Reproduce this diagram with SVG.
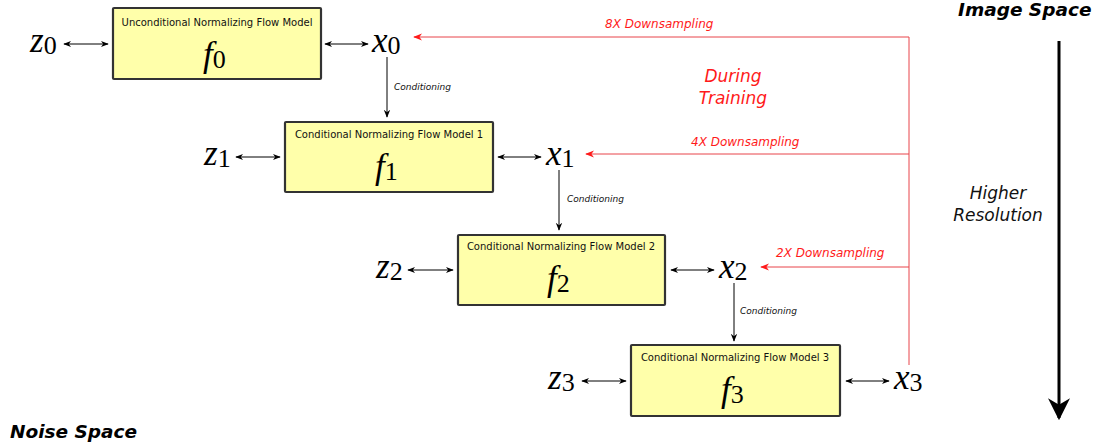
<svg xmlns="http://www.w3.org/2000/svg" width="1096" height="448" viewBox="0 0 1096 448">
<style>
.box{fill:#ffffaa;stroke:#333;stroke-width:2.2}
.ttl{font-family:"DejaVu Sans",sans-serif;font-size:10px;fill:#111;text-anchor:middle}
.math{font-family:"Liberation Serif","DejaVu Serif",serif;font-style:italic;font-size:35px;fill:#000}
.sub{font-family:"Liberation Serif","DejaVu Serif",serif;font-style:normal;font-size:26px}
.cond{font-family:"DejaVu Sans",sans-serif;font-style:italic;font-size:9px;fill:#111}
.red{font-family:"DejaVu Sans",sans-serif;font-style:italic;font-size:12px;fill:#ff1a1a}
.red16{font-family:"DejaVu Sans",sans-serif;font-style:italic;font-size:17px;fill:#ff1a1a;text-anchor:middle}
.hr{font-family:"DejaVu Sans",sans-serif;font-style:italic;font-size:17px;fill:#111;text-anchor:middle}
.bl{stroke:#000;stroke-width:1;fill:none}
.rl{stroke:#e8454a;stroke-width:1;fill:none}
.big{font-family:"DejaVu Sans",sans-serif;font-weight:bold;font-style:italic;font-size:18.5px;fill:#000}
</style>
<defs>
<marker id="ah" viewBox="0 0 10 10" refX="9" refY="5" markerWidth="8" markerHeight="8" orient="auto-start-reverse" markerUnits="userSpaceOnUse"><path d="M0,1 L10,5 L0,9 L3,5 Z" fill="#000"/></marker>
<marker id="rh" viewBox="0 0 10 10" refX="9" refY="5" markerWidth="9" markerHeight="9" orient="auto" markerUnits="userSpaceOnUse"><path d="M0,1 L10,5 L0,9 L3,5 Z" fill="#ff1a1a"/></marker>
<marker id="bh" viewBox="0 0 10 10" refX="9" refY="5" markerWidth="22" markerHeight="22" orient="auto" markerUnits="userSpaceOnUse"><path d="M0,0 L10,5 L0,10 L3,5 Z" fill="#000"/></marker>
</defs>

<g id="node-f0">
<rect class="box" x="113" y="8" width="208" height="71" rx="1"/>
<text class="ttl" x="217" y="26">Unconditional Normalizing Flow Model</text>
<text class="math" x="203" y="66">f<tspan class="sub" dy="2">0</tspan></text>
</g>
<g id="node-f1">
<rect class="box" x="285" y="122" width="208" height="70" rx="1"/>
<text class="ttl" x="389" y="138">Conditional Normalizing Flow Model 1</text>
<text class="math" x="375" y="178">f<tspan class="sub" dy="2">1</tspan></text>
</g>
<g id="node-f2">
<rect class="box" x="458" y="235" width="207" height="70" rx="1"/>
<text class="ttl" x="561" y="250">Conditional Normalizing Flow Model 2</text>
<text class="math" x="547" y="290">f<tspan class="sub" dy="2">2</tspan></text>
</g>
<g id="node-f3">
<rect class="box" x="631" y="345" width="209" height="71" rx="1"/>
<text class="ttl" x="735" y="361">Conditional Normalizing Flow Model 3</text>
<text class="math" x="721" y="401">f<tspan class="sub" dy="2">3</tspan></text>
</g>

<g id="node-z0"><text class="math" x="30" y="52">z<tspan class="sub" dy="2">0</tspan></text></g>
<g id="node-z1"><text class="math" x="204" y="165">z<tspan class="sub" dy="2">1</tspan></text></g>
<g id="node-z2"><text class="math" x="376" y="278">z<tspan class="sub" dy="2">2</tspan></text></g>
<g id="node-z3"><text class="math" x="548" y="389">z<tspan class="sub" dy="2">3</tspan></text></g>
<g id="node-x0"><text class="math" x="372" y="52">x<tspan class="sub" dy="2">0</tspan></text></g>
<g id="node-x1"><text class="math" x="546" y="165">x<tspan class="sub" dy="2">1</tspan></text></g>
<g id="node-x2"><text class="math" x="719" y="278">x<tspan class="sub" dy="2">2</tspan></text></g>
<g id="node-x3"><text class="math" x="894" y="389">x<tspan class="sub" dy="2">3</tspan></text></g>

<g id="connectors">
<line class="bl" x1="64" y1="44" x2="108" y2="44" marker-start="url(#ah)" marker-end="url(#ah)"/>
<line class="bl" x1="325" y1="44" x2="368" y2="44" marker-start="url(#ah)" marker-end="url(#ah)"/>
<line class="bl" x1="236" y1="157" x2="280" y2="157" marker-start="url(#ah)" marker-end="url(#ah)"/>
<line class="bl" x1="498" y1="157" x2="541" y2="157" marker-start="url(#ah)" marker-end="url(#ah)"/>
<line class="bl" x1="408" y1="270" x2="453" y2="270" marker-start="url(#ah)" marker-end="url(#ah)"/>
<line class="bl" x1="671" y1="270" x2="714" y2="270" marker-start="url(#ah)" marker-end="url(#ah)"/>
<line class="bl" x1="582" y1="381" x2="626" y2="381" marker-start="url(#ah)" marker-end="url(#ah)"/>
<line class="bl" x1="846" y1="381" x2="889" y2="381" marker-start="url(#ah)" marker-end="url(#ah)"/>

<line class="bl" x1="387" y1="57" x2="387" y2="117" stroke="#444" marker-end="url(#ah)"/>
<text class="cond" x="394" y="90">Conditioning</text>
<line class="bl" x1="559" y1="170" x2="559" y2="230" stroke="#444" marker-end="url(#ah)"/>
<text class="cond" x="567" y="202">Conditioning</text>
<line class="bl" x1="734" y1="283" x2="734" y2="341" stroke="#444" marker-end="url(#ah)"/>
<text class="cond" x="740" y="314">Conditioning</text>

<path class="rl" d="M909,365 L909,37 L414,37" marker-end="url(#rh)"/>
<line class="rl" x1="909" y1="154" x2="586" y2="154" marker-end="url(#rh)"/>
<line class="rl" x1="909" y1="267" x2="761" y2="267" marker-end="url(#rh)"/>
<text class="red" x="605" y="28">8X Downsampling</text>
<text class="red" x="691" y="146">4X Downsampling</text>
<text class="red" x="776" y="257">2X Downsampling</text>
<text class="red16" x="733" y="82">During</text>
<text class="red16" x="733" y="104">Training</text>

<line x1="1059" y1="41" x2="1059" y2="418" stroke="#000" stroke-width="3" marker-end="url(#bh)"/>
</g>

<text class="big" x="958" y="16">Image Space</text>
<text class="big" x="10" y="438">Noise Space</text>
<text class="hr" x="998" y="199">Higher</text>
<text class="hr" x="998" y="221">Resolution</text>
</svg>
